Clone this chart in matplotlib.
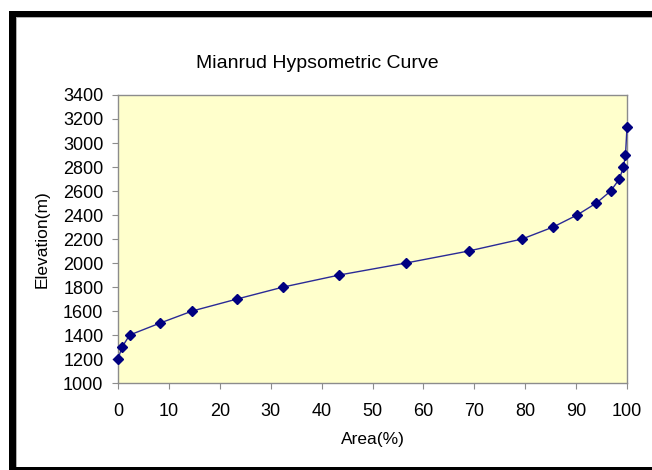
import matplotlib
matplotlib.use('Agg')
import matplotlib.pyplot as plt
from matplotlib.patches import Rectangle

plt.rcParams['font.family'] = ['Liberation Sans', 'DejaVu Sans']

# Hypsometric data
area_pct = [0, 0.8, 2.3, 8.3, 14.6, 23.4, 32.5, 43.5, 56.6, 68.9, 79.4,
            85.5, 90.2, 94.0, 96.8, 98.5, 99.3, 99.7, 100]
elevation = [1200, 1300, 1400, 1500, 1600, 1700, 1800, 1900, 2000, 2100, 2200,
             2300, 2400, 2500, 2600, 2700, 2800, 2900, 3130]

x_ticks = list(range(0, 101, 10))
y_ticks = list(range(1000, 3401, 200))

W, H = 652, 470
fig = plt.figure(figsize=(W / 100, H / 100), dpi=100)
fig.patch.set_facecolor('white')


def px_rect(x0, y0, x1, y1, color):
    # rectangle given in pixel coords from the top-left corner
    r = Rectangle((x0 / W, 1 - y1 / H), (x1 - x0) / W, (y1 - y0) / H,
                  transform=fig.transFigure, facecolor=color,
                  edgecolor='none', clip_on=False)
    fig.patches.append(r)


# black frame: top, left and bottom bars (right side runs off the picture)
px_rect(9, 11, W, 17, 'black')
px_rect(9, 11, 16, H, 'black')
px_rect(9, 467, W, H, 'black')
# thin grey line just inside the frame
px_rect(16, 17, W, 18, '#b0b0b0')
px_rect(16, 17, 17, 467, '#b0b0b0')

ax = fig.add_axes([118 / W, 1 - 383 / H, (627 - 118) / W, (383 - 95) / H])
ax.set_facecolor('#FFFFCC')

ax.plot(area_pct, elevation, color='#2a2a96', linewidth=1.0,
        marker='D', markersize=5.5, markerfacecolor='#000080',
        markeredgecolor='#000080', clip_on=False, zorder=3)

ax.set_xlim(0, 100)
ax.set_ylim(1000, 3400)
ax.set_xticks(x_ticks)
ax.set_yticks(y_ticks)

for s in ax.spines.values():
    s.set_color('#8c8c8c')
    s.set_linewidth(1.0)

ax.tick_params(axis='both', direction='out', color='#8c8c8c', labelsize=13, length=4.5)
ax.tick_params(axis='x', pad=10)
ax.tick_params(axis='y', pad=6)

ax.set_xlabel('Area(%)', fontsize=12.5)
ax.set_ylabel('Elevation(m)', fontsize=12.5)
ax.xaxis.set_label_coords(0.5, -(432 - 383) / 288)
ax.yaxis.set_label_coords(-(118 - 50) / 509, 0.5)

fig.text(317 / W, 1 - 63 / H, 'Mianrud Hypsometric Curve',
         ha='center', va='center', fontsize=14)

fig.savefig('out.png', dpi=100)
